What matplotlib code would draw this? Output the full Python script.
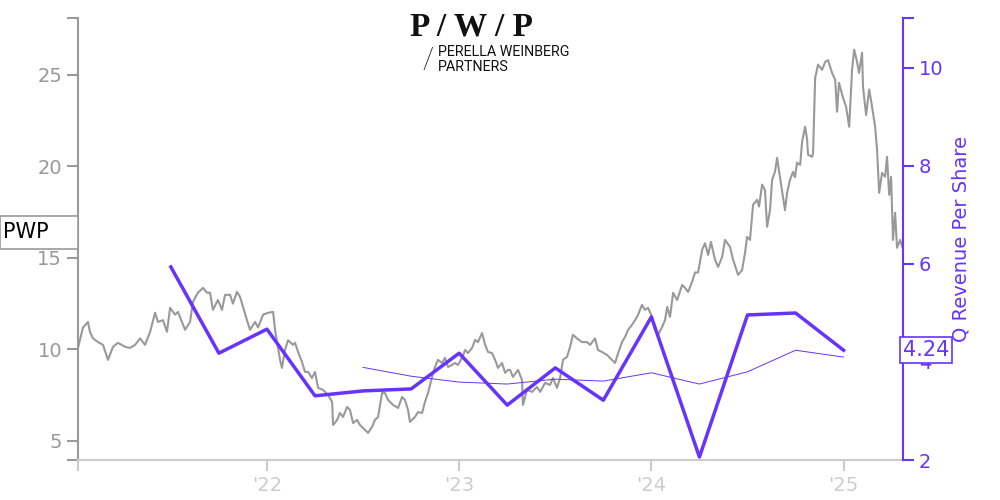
import numpy as np
import matplotlib.pyplot as plt
from matplotlib.ticker import FixedLocator
from matplotlib.patches import Rectangle

# share price (decimal year, USD)
price_t = [2021.017, 2021.043, 2021.069, 2021.079, 2021.095, 2021.121, 2021.147, 2021.173,
           2021.199, 2021.225, 2021.262, 2021.288, 2021.314, 2021.340, 2021.366, 2021.392,
           2021.418, 2021.433, 2021.459, 2021.480, 2021.496, 2021.522, 2021.537, 2021.558,
           2021.574, 2021.600, 2021.615, 2021.641, 2021.667, 2021.688, 2021.704, 2021.719,
           2021.745, 2021.766, 2021.782, 2021.808, 2021.823, 2021.844, 2021.860, 2021.876,
           2021.896, 2021.912, 2021.938, 2021.954, 2021.980, 2022.006, 2022.032, 2022.042,
           2022.057, 2022.068, 2022.078, 2022.094, 2022.110, 2022.135,
           2022.146, 2022.162, 2022.182, 2022.198, 2022.214, 2022.234, 2022.250, 2022.266,
           2022.292, 2022.318, 2022.339, 2022.344, 2022.365, 2022.380, 2022.396, 2022.417,
           2022.432, 2022.448, 2022.469, 2022.484, 2022.500, 2022.526, 2022.547, 2022.562,
           2022.578, 2022.599, 2022.614, 2022.630, 2022.656, 2022.682, 2022.703, 2022.718,
           2022.734, 2022.744, 2022.770, 2022.786, 2022.807, 2022.822, 2022.838, 2022.859,
           2022.874, 2022.890, 2022.911, 2022.926, 2022.942, 2022.963, 2022.978, 2022.994,
           2023.015, 2023.031, 2023.046, 2023.067, 2023.083, 2023.098, 2023.119, 2023.135,
           2023.150, 2023.171, 2023.187, 2023.202, 2023.223, 2023.239, 2023.254,
           2023.265, 2023.280, 2023.306, 2023.327, 2023.332, 2023.353, 2023.379, 2023.405,
           2023.421, 2023.447, 2023.473, 2023.488, 2023.509, 2023.525, 2023.540, 2023.561,
           2023.577, 2023.592, 2023.613, 2023.639, 2023.665, 2023.681, 2023.707, 2023.722,
           2023.743, 2023.769, 2023.795, 2023.811, 2023.827, 2023.847, 2023.863, 2023.879,
           2023.899, 2023.915, 2023.931, 2023.951, 2023.967, 2023.983, 2024.003, 2024.019,
           2024.035, 2024.056, 2024.071, 2024.082, 2024.097, 2024.113, 2024.134, 2024.160,
           2024.175, 2024.191, 2024.212, 2024.227, 2024.243,
           2024.264, 2024.279, 2024.295, 2024.310, 2024.331, 2024.347, 2024.368, 2024.383,
           2024.409, 2024.425, 2024.451, 2024.472, 2024.487, 2024.498, 2024.513, 2024.529,
           2024.550, 2024.560, 2024.576, 2024.591, 2024.602, 2024.617, 2024.628, 2024.643,
           2024.654, 2024.669, 2024.685, 2024.695, 2024.706, 2024.721, 2024.737, 2024.747,
           2024.758, 2024.774, 2024.784, 2024.800, 2024.810, 2024.815, 2024.836, 2024.841,
           2024.852, 2024.867, 2024.888, 2024.904, 2024.919, 2024.940, 2024.956, 2024.966,
           2024.976, 2024.997, 2025.013, 2025.029, 2025.044, 2025.055, 2025.070, 2025.080,
           2025.096, 2025.101, 2025.117, 2025.133, 2025.148, 2025.164, 2025.174, 2025.185,
           2025.200, 2025.216, 2025.226, 2025.237, 2025.247, 2025.257, 2025.268, 2025.278,
           2025.294, 2025.305]
price = [10.08, 11.2, 11.5, 10.96, 10.6, 10.4, 10.25, 9.43,
         10.14, 10.36, 10.14, 10.08, 10.25, 10.6, 10.25, 10.96,
         12.0, 11.5, 11.6, 10.96, 12.27, 11.9, 12.05, 11.5,
         11.07, 11.5, 12.6, 13.1, 13.36, 13.1, 13.1, 12.16,
         12.7, 12.16, 12.98, 12.98, 12.5, 13.14, 12.87, 12.3,
         11.6, 11.07, 11.5, 11.2, 11.9, 12.0, 12.05, 11.07,
         10.14, 9.43, 8.99, 9.97, 10.5, 10.25,
         10.36, 9.86, 9.32, 8.77, 8.77, 8.44, 8.77, 7.9,
         7.79, 7.51, 7.13, 5.87, 6.15, 6.53, 6.31, 6.86,
         6.69, 5.98, 6.15, 5.87, 5.71, 5.44, 5.77, 6.15,
         6.31, 7.62, 7.62, 7.24, 6.97, 6.8, 7.4, 7.24,
         6.69, 6.04, 6.31, 6.58, 6.53, 7.13, 7.62, 8.5,
         9.04, 9.43, 9.26, 9.54, 9.04, 9.15, 9.26, 9.15,
         9.54, 9.97, 9.8, 10.08, 10.52, 10.4, 10.9, 10.25,
         9.86, 9.8, 9.43, 8.99, 9.26, 8.72, 8.88,
         8.88, 8.5, 8.88, 8.33, 6.97, 7.79, 7.68, 7.95,
         7.68, 8.17, 8.06, 8.44, 7.9, 8.44, 9.43, 9.59,
         10.14, 10.8, 10.6, 10.4, 10.4, 10.25, 10.6, 9.97,
         9.86, 9.7, 9.43, 9.26, 9.8, 10.4, 10.68, 11.07,
         11.34, 11.6, 11.9, 12.43, 12.16, 12.27, 11.78, 11.07,
         10.8, 11.23, 11.6, 12.32, 11.78, 13.09, 12.7, 13.52,
         13.36, 13.14, 13.7, 14.2, 14.2,
         15.44, 15.8, 15.16, 15.87, 14.9, 14.5, 15.05, 15.98,
         15.6, 14.9, 14.07, 14.34, 15.27, 16.15, 15.98, 17.9,
         18.17, 17.8, 19.0, 18.7, 16.7, 17.6, 19.26, 19.7,
         20.46, 19.4, 18.3, 17.6, 18.55, 19.26, 19.7, 19.4,
         20.2, 20.08, 21.34, 22.16, 21.45, 20.63, 20.52, 20.7,
         24.84, 25.55, 25.27, 25.7, 25.8, 25.1, 24.73, 22.98,
         24.56, 23.74, 23.25, 22.16, 25.27, 26.37, 25.7, 25.1,
         26.2, 24.34, 22.8, 24.2, 23.25, 22.16, 20.9, 18.55,
         19.64, 19.43, 20.52, 18.44, 19.43, 15.98, 17.46, 15.55,
         15.98, 15.6]

# quarterly revenue per share
rev_t = [2021.5, 2021.75, 2022.0, 2022.25, 2022.5, 2022.75, 2023.0, 2023.25,
         2023.5, 2023.75, 2024.0, 2024.25, 2024.5, 2024.75, 2025.0]
rev = [5.94, 4.18, 4.67, 3.31, 3.41, 3.45, 4.18, 3.12,
       3.88, 3.22, 4.92, 2.06, 4.96, 5.0, 4.24]
# trailing four-quarter average
avg_t = [2022.5, 2022.75, 2023.0, 2023.25, 2023.5, 2023.75, 2024.0, 2024.25,
         2024.5, 2024.75, 2025.0]
avg = [3.89, 3.71, 3.59, 3.55, 3.65, 3.61, 3.78, 3.55, 3.80, 4.24, 4.10]

year_ticks = [2022, 2023, 2024, 2025]
year_labels = ["'22", "'23", "'24", "'25"]
ticker = 'PWP'
ticker_level = 16.4

purple = '#6633ff'
grey = '#999999'
light = '#cccccc'

fig = plt.figure(figsize=(10, 5), dpi=100)
ax = fig.add_axes([0.078, 0.08, 0.825, 0.884])
ax.plot(price_t, price, color=grey, lw=1.5, zorder=2)
ax.set_xlim(2021.017, 2025.309)
ax.set_ylim(3.96, 28.1)

ax.spines['top'].set_visible(False)
ax.spines['right'].set_visible(False)
ax.spines['left'].set_color(grey)
ax.spines['bottom'].set_color(light)
ax.spines['left'].set_linewidth(1.5)
ax.spines['bottom'].set_linewidth(1.5)
ax.set_yticks([5, 10, 15, 20, 25])
ax.yaxis.set_minor_locator(FixedLocator([3.96, 28.1]))
ax.tick_params(axis='y', which='both', colors=grey, labelsize=14, length=8, width=1.5)
ax.set_xticks(year_ticks)
ax.set_xticklabels(year_labels)
ax.xaxis.set_minor_locator(FixedLocator([2021.017]))
ax.tick_params(axis='x', which='both', colors=light, labelsize=14, length=8, width=1.5)

ax2 = ax.twinx()
ax2.plot(rev_t, rev, color=purple, lw=2.5, zorder=3)
ax2.plot(avg_t, avg, color=purple, lw=0.7, zorder=3)
ax2.set_ylim(2, 11.02)
ax2.set_yticks([2, 4, 6, 8, 10])
ax2.yaxis.set_minor_locator(FixedLocator([11.02]))
for s in ['top', 'left', 'bottom']:
    ax2.spines[s].set_visible(False)
ax2.spines['right'].set_color(purple)
ax2.spines['right'].set_linewidth(1.5)
ax2.tick_params(axis='y', which='both', colors=purple, labelsize=14, length=8, width=1.5)
ax2.set_ylabel('Q Revenue Per Share', color=purple, fontsize=14, labelpad=6)

# ticker tag on the left of the price axis
tr = ax.get_yaxis_transform()
ax.add_patch(Rectangle((-0.0945, ticker_level - 0.9), 0.0945, 1.8, transform=tr,
                       fc='white', ec=grey, lw=1.2, clip_on=False, zorder=5))
ax.text(-0.091, ticker_level, ticker, transform=tr, fontsize=15,
        va='center', ha='left', color='black', zorder=6)

# last revenue value tag
ax2.text(1.0, rev[-1], '%.2f' % rev[-1], transform=ax2.get_yaxis_transform(),
         fontsize=15, va='center', ha='left', color=purple, zorder=5,
         bbox=dict(boxstyle='square,pad=0.15', fc='white', ec=purple, lw=1.2))

# logo
fig.text(0.472, 0.946, 'P / W / P', fontsize=24, fontweight='bold', family='Liberation Serif',
         ha='center', va='center', color='#111111')
fig.text(0.428, 0.88, '/', fontsize=21, ha='center', va='center', color='#111111',
         family='Roboto', fontweight='light')
fig.text(0.438, 0.896, 'PERELLA WEINBERG', fontsize=10.3, family='Roboto', ha='left',
         va='center', color='#111111')
fig.text(0.438, 0.866, 'PARTNERS', fontsize=10.3, family='Roboto', ha='left',
         va='center', color='#111111')

fig.savefig('out.png', dpi=100)
